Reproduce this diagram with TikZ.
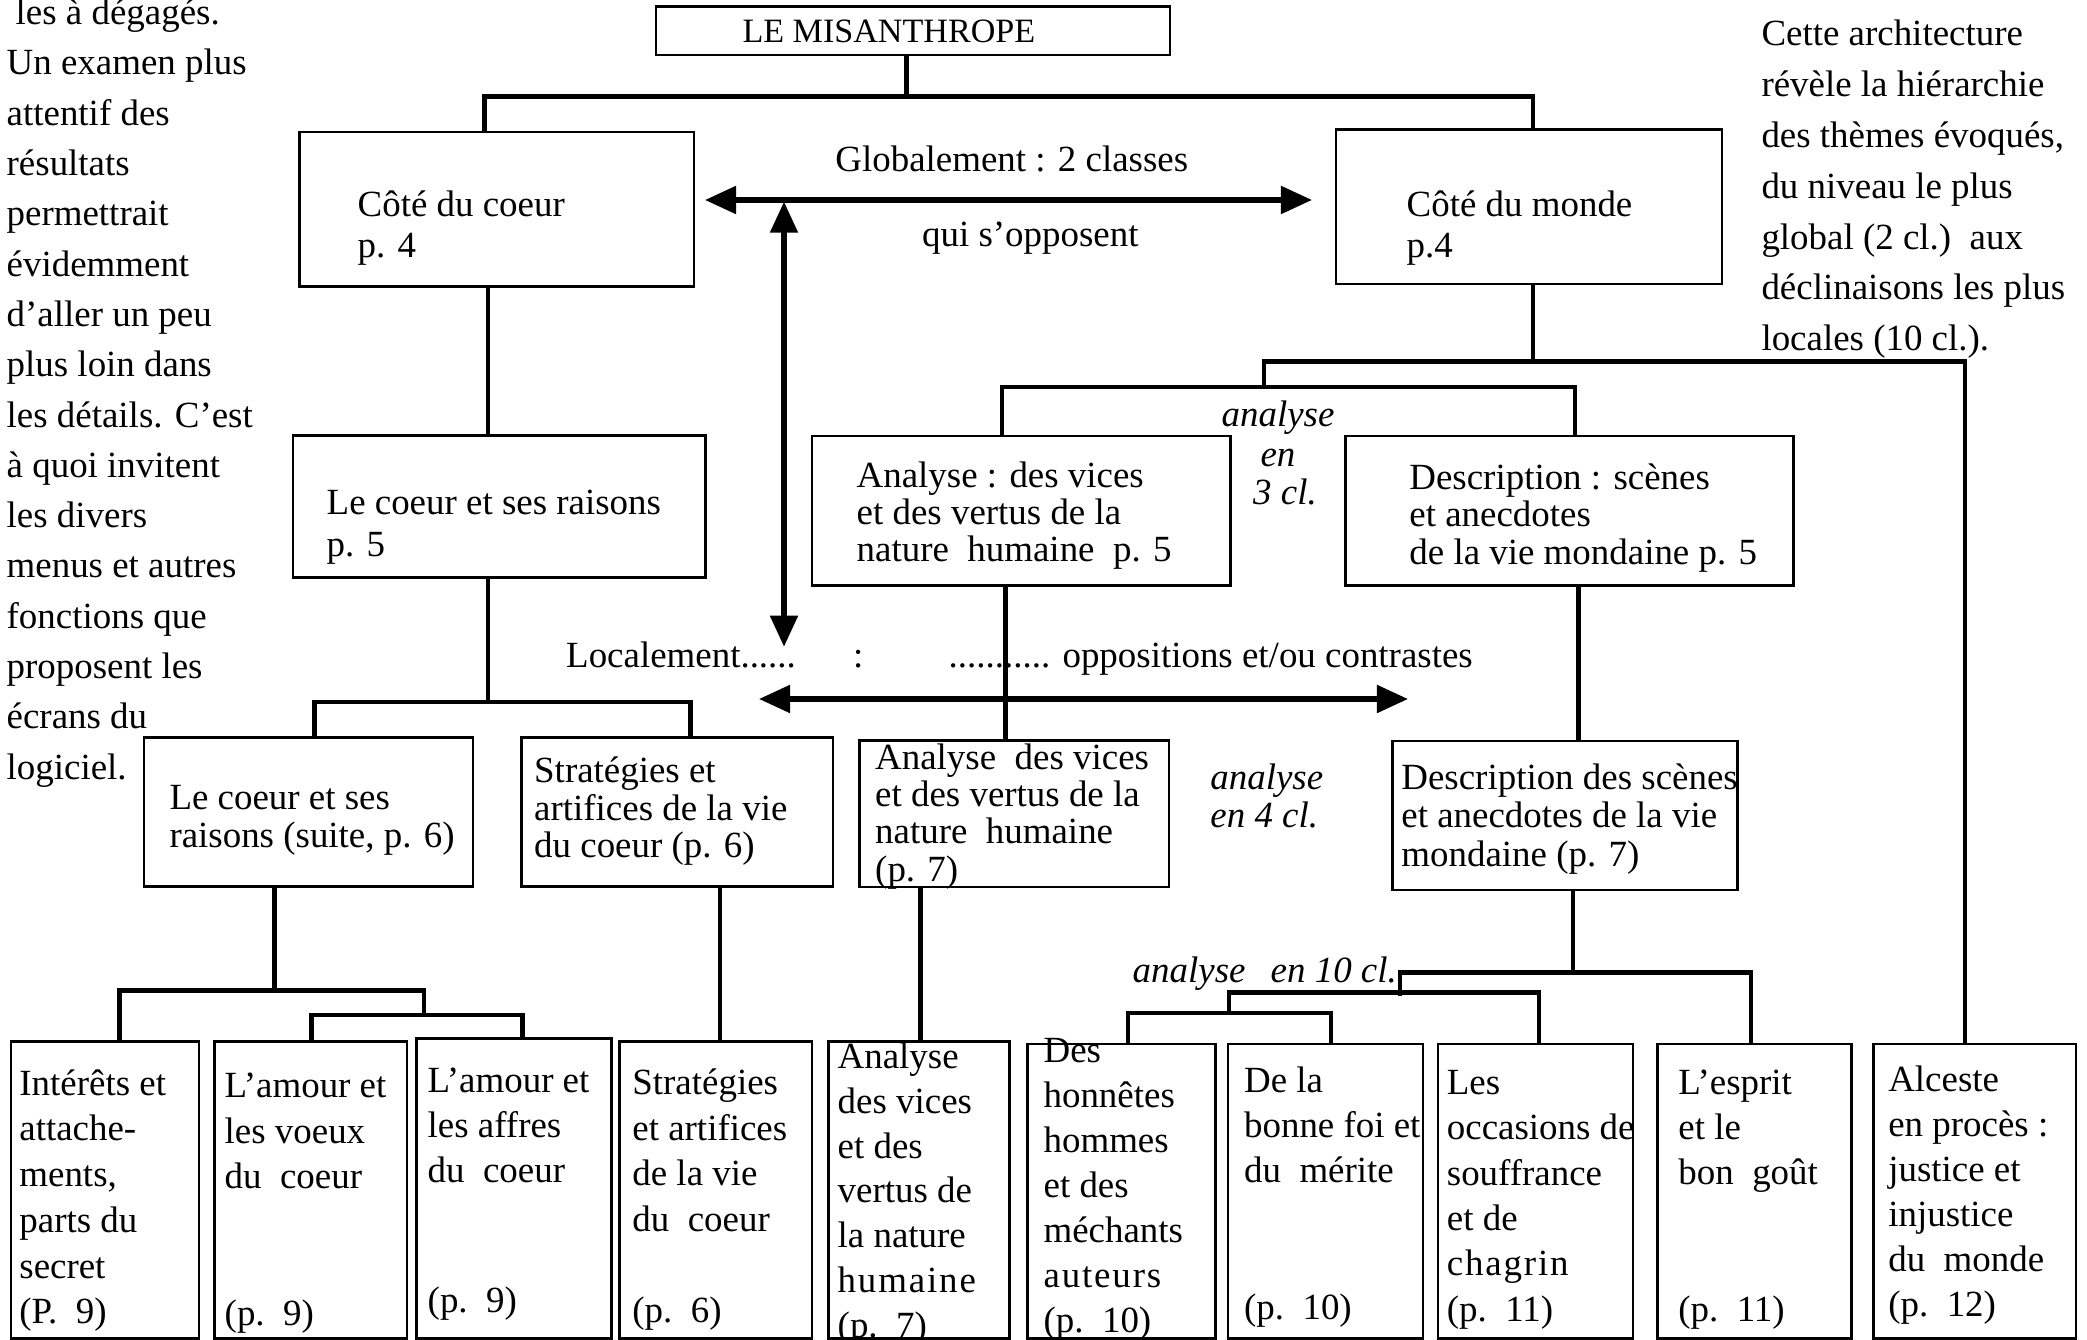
\documentclass[tikz,border=0pt]{standalone}
\usepackage{fontspec}
\setmainfont{Liberation Serif}
\newfontfamily\lspc{Liberation Serif}[LetterSpace=5]
\usetikzlibrary{arrows.meta}
\tikzset{
  bx/.style={draw, line width=0.7pt, inner sep=0pt, rectangle},
  conn/.style={line width=1.4pt, line join=miter},
  dbl/.style={line width=1.45pt, {Triangle[length=0.31cm,width=0.27cm]}-{Triangle[length=0.31cm,width=0.27cm]}},
  tx/.style={anchor=base west, inner sep=0pt, yshift=-0.045cm, font=\fontsize{10.5}{12}\selectfont},
  txc/.style={tx, anchor=base},
  it/.style={tx, font=\fontsize{10.5}{12}\selectfont\itshape},
  itc/.style={it, anchor=base},
}
\newcommand\bx[5]{\node[bx, minimum width={(#4-#2)*0.01cm}, minimum height={(#5-#3)*0.01cm}] (#1) at ({(#2+#4)/2},{(#3+#5)/2}) {};}
\newcommand\tlines[6][tx]{\foreach \tline [count=\tcnt] in {#6} {\node[#1] (#2-\tcnt) at (#3,{#4+(\tcnt-1)*#5}) {\tline};}}
\begin{document}
\begin{tikzpicture}[x=0.01cm, y=-0.01cm]
\useasboundingbox (0,0) rectangle (2087,1340);

% boxes
\bx{mis}{656}{6.7}{1170}{55}
\bx{cc}{299.5}{131.8}{694}{286.5}
\bx{cm}{1336}{129.5}{1722}{284}
\bx{lr}{293}{435.5}{705.5}{577.7}
\bx{an}{812}{436}{1230.5}{585.7}
\bx{de}{1345.6}{436}{1793.5}{585.7}
\bx{lrs}{144}{737.5}{473}{886.7}
\bx{st}{521.6}{737.5}{833}{886.7}
\bx{an2}{859.5}{740.5}{1169}{887}
\bx{de2}{1392.6}{741}{1737.5}{890}
\bx{b1}{11}{1041.7}{199}{1338.5}
\bx{b2}{214.3}{1041.7}{407}{1338.5}
\bx{b3}{416.5}{1038.7}{611.6}{1338.5}
\bx{b4}{619.6}{1041.7}{812}{1338.5}
\bx{b5}{828.6}{1041.7}{1009.7}{1338.5}
\bx{b6}{1027.6}{1044}{1215.3}{1338.5}
\bx{b7}{1228}{1044}{1423}{1338.5}
\bx{b8}{1438}{1044}{1633}{1338.5}
\bx{b9}{1657.5}{1044}{1851.4}{1338.5}
\bx{b10}{1873.5}{1044}{2076}{1338.5}

% box texts
\node[tx, font=\fontsize{9.7}{12}\selectfont] (mist) at (741.8,38) {LE MISANTHROPE};
\tlines{cct}{357}{211.7}{41.5}{{Côté du coeur},{p. 4}}
\tlines{cmt}{1406}{211.7}{41.5}{{Côté du monde},{p.4}}
\tlines{lrt}{326}{510}{41.7}{{Le coeur et ses raisons},{p. 5}}
\tlines{ant}{856}{483.3}{36.7}{{Analyse : des vices},{et des vertus de la},{nature\ \ humaine\ \ p. 5}}
\tlines{det}{1408.7}{485}{37.5}{{Description : scènes},{et anecdotes},{de la vie mondaine p. 5}}
\tlines{lrst}{168.8}{805}{38.3}{{Le coeur et ses},{raisons (suite, p. 6)}}
\tlines{stt}{533.5}{778.3}{37.5}{{Stratégies et},{artifices de la vie},{du coeur (p. 6)}}
\tlines{antt}{874.5}{765}{37.2}{{Analyse\ \ des vices},{et des vertus de la},{nature\ \ humaine},{(p. 7)}}
\tlines{dett}{1400.7}{785}{38.3}{{Description des scènes},{et anecdotes de la vie},{mondaine (p. 7)}}

\tlines{bat}{18.7}{1090.7}{45.7}{{Intérêts et},{attache-},{ments,},{parts du},{secret},{(P.\ \ 9)}}
\tlines{bbt}{224}{1093.3}{45.5}{{L’amour et},{les voeux},{du\ \ coeur}}
\node[tx] (bbp) at (224,1320.7) {(p.\ \ 9)};
\tlines{bct}{427}{1088.3}{45}{{L’amour et},{les affres},{du\ \ coeur}}
\node[tx] (bcp) at (427,1308.3) {(p.\ \ 9)};
\tlines{bdt}{631.7}{1090}{45.5}{{Stratégies},{et artifices},{de la vie},{du\ \ coeur}}
\node[tx] (bdp) at (631.7,1318.3) {(p.\ \ 6)};
\tlines{bet}{837}{1064}{44.8}{{Analyse},{des vices},{et des},{vertus de},{la nature},{{\lspc humaine}},{(p.\ \ 7)}}
\tlines{bft}{1042.9}{1058.3}{45}{{Des},{honnêtes},{hommes},{et des},{méchants},{{\lspc auteurs}},{(p.\ \ 10)}}
\tlines{bgt}{1243.4}{1088.3}{45}{{De la},{bonne foi et},{du\ \ mérite}}
\node[tx] (bgp) at (1243.4,1315) {(p.\ \ 10)};
\tlines{bht}{1446.2}{1090}{45.3}{{Les},{occasions de},{souffrance},{et de},{{\lspc chagrin}},{(p.\ \ 11)}}
\tlines{bit}{1677.7}{1090}{45}{{L’esprit},{et le},{bon\ \ goût}}
\node[tx] (bip) at (1677.7,1316.7) {(p.\ \ 11)};
\tlines{bjt}{1887.6}{1087}{45}{{Alceste},{en procès :},{justice et},{injustice},{du\ \ monde},{(p.\ \ 12)}}

% free labels
\node[tx] (glob) at (834.7,166.7) {Globalement : 2 classes};
\node[tx] (qui) at (921.4,241.7) {qui s’opposent};
\node[tx] (loc) at (565.5,663.3) {Localement......};
\node[tx] (colon) at (852.5,663.3) {:};
\node[tx] (opp) at (948,663.3) {........... oppositions et/ou contrastes};
\node[itc] (a3a) at (1278,421.7) {analyse};
\node[itc] (a3b) at (1278,461.7) {en};
\node[itc] (a3c) at (1285,500) {3 cl.};
\node[it] (a4a) at (1209.7,785) {analyse};
\node[it] (a4b) at (1209.7,823.3) {en 4 cl.};
\node[it] (a10a) at (1132,978.3) {analyse};
\node[it] (a10b) at (1270,978.3) {en 10 cl.};

% side paragraphs
\node[tx] (p0) at (15,20) {les à dégagés.};
\tlines{pl}{6}{70.5}{50.3}{{Un examen plus},{attentif des},{résultats},{permettrait},{évidemment},{d’aller un peu},{plus loin dans},{les détails. C’est},{à quoi invitent},{les divers},{menus et autres},{fonctions que},{proposent les},{écrans du},{logiciel.}}
\tlines{pr}{1760.8}{41}{50.9}{{Cette architecture},{révèle la hiérarchie},{des thèmes évoqués,},{du niveau le plus},{global (2 cl.)\ \ aux},{déclinaisons les plus},{locales (10 cl.).}}

% tree connectors
\draw[conn] (mis.south -| 906.6,0) -- (906.6,96.7);
\draw[conn] (cc.north -| 484.5,0) -- (484.5,96.7) -- (1533,96.7) -- (cm.north -| 1533,0);
\draw[conn] (cc.south -| 488,0) -- (lr.north -| 488,0);
\draw[conn] (lr.south -| 488,0) -- (488,702);
\draw[conn] (lrs.north -| 314.5,0) -- (314.5,702) -- (690.6,702) -- (st.north -| 690.6,0);
\draw[conn] (cm.south -| 1533,0) -- (1533,361.7);
\draw[conn] (1264,387) -- (1264,361.7) -- (1965,361.7) -- (b10.north -| 1965,0);
\draw[conn] (an.north -| 1002,0) -- (1002,387) -- (1575,387) -- (de.north -| 1575,0);
\draw[conn] (an.south -| 1005.5,0) -- (an2.north -| 1005.5,0);
\draw[conn] (de.south -| 1578.5,0) -- (de2.north -| 1578.5,0);
\draw[conn] (lrs.south -| 274.6,0) -- (274.6,990.7);
\draw[conn] (b1.north -| 119.6,0) -- (119.6,990.7) -- (424,990.7) -- (424,1015);
\draw[conn] (b2.north -| 311.6,0) -- (311.6,1015) -- (522.3,1015) -- (b3.north -| 522.3,0);
\draw[conn] (st.south -| 720,0) -- (b4.north -| 720,0);
\draw[conn] (an2.south -| 920.5,0) -- (b5.north -| 920.5,0);
\draw[conn] (de2.south -| 1573,0) -- (1573,972.7);
\draw[conn] (b9.north -| 1751,0) -- (1751,972.7) -- (1400,972.7) -- (1400,996);
\draw[conn] (b8.north -| 1539,0) -- (1539,992.7) -- (1229,992.7) -- (1229,1013);
\draw[conn] (b6.north -| 1128,0) -- (1128,1013) -- (1331,1013) -- (b7.north -| 1331,0);

% arrows
\coordinate (gA) at (705,200);
\coordinate (gB) at (1312,200);
\coordinate (vA) at (784,201.7);
\coordinate (vB) at (784,646.7);
\coordinate (lA) at (759,699);
\coordinate (lB) at (1408,699);
\draw[dbl] (gA) -- (gB);
\draw[dbl] (vA) -- (vB);
\draw[dbl] (lA) -- (lB);
\end{tikzpicture}
\end{document}
